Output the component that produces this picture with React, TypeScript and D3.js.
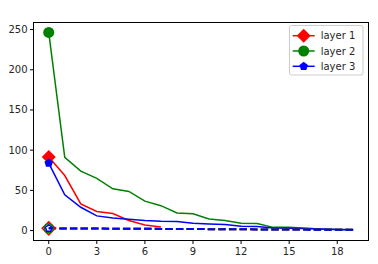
import React from "react";
import * as d3 from "d3";

const xs = d3.range(20);
const layer1 = [91.5, 68.5, 33.3, 23.7, 21.2, 12.5, 7, 4.6];
const layer2 = [246.5, 91, 74, 65, 52, 48.7, 36.6, 31, 22, 20.8, 14.5, 12.5, 9, 8.7, 4, 4, 3, 2, 1.5, 1];
const layer3 = [84, 44.5, 29, 18.3, 15.8, 14, 12.5, 11.5, 11.2, 9, 8.3, 7.5, 5.4, 5, 3.3, 3, 2.5, 2, 1.5, 1];
const baseline = [2.8, 2.7, 2.6, 2.5, 2.4, 2.3, 2.2, 2.1, 2.0, 1.9, 1.8, 1.7, 1.6, 1.5, 1.4, 1.3, 1.2, 1.1, 1.0, 0.9];
const xTicks = [0, 3, 6, 9, 12, 15, 18];
const yTicks = [0, 50, 100, 150, 200, 250];
const legendLabels = ["layer 1", "layer 2", "layer 3"];
const colors = ["red", "green", "blue"];

const L = 33.5, R = 368.5, T = 22.5, B = 240.5;

function diamond(cx: number, cy: number, r: number) {
  return `M${cx},${cy - r}L${cx + r},${cy}L${cx},${cy + r}L${cx - r},${cy}Z`;
}
function pentagon(cx: number, cy: number, r: number) {
  const pts = d3.range(5).map((i) => {
    const a = -Math.PI / 2 + (i * 2 * Math.PI) / 5;
    return [cx + r * Math.cos(a), cy + r * Math.sin(a)];
  });
  return "M" + pts.map((p) => p.join(",")).join("L") + "Z";
}

export default function App() {
  const x = d3.scaleLinear().domain([-0.95, 19.95]).range([L, R]);
  const y = d3.scaleLinear().domain([-12.33, 258.8]).range([B, T]);
  const line = d3
    .line<number>()
    .x((_, i) => x(i))
    .y((d) => y(d));
  const series = [layer1, layer2, layer3];
  const font = "DejaVu Sans, sans-serif";
  const bx = x(0), by = y(baseline[0]);
  return (
    <svg width={378} height={264} style={{ position: "absolute", left: 0, top: 0 }}>
      <rect x={0} y={0} width={378} height={264} fill="white" />
      {series.map((s, i) => (
        <path key={i} d={line(s) || ""} fill="none" stroke={colors[i]} strokeWidth={1.5} />
      ))}
      {colors.map((c, i) => (
        <path key={"b" + i} d={line(baseline) || ""} fill="none" stroke={c} strokeWidth={2} strokeDasharray="7.4,3.2" />
      ))}
      <path d={diamond(bx, by, 6.5)} fill="none" stroke="red" strokeWidth={1.5} />
      <circle cx={bx} cy={by} r={4.5} fill="none" stroke="green" strokeWidth={1.5} />
      <path d={pentagon(bx, by, 3.5)} fill="none" stroke="blue" strokeWidth={1.5} />
      <path d={diamond(x(0), y(layer1[0]), 7)} fill="red" />
      <circle cx={x(0)} cy={y(layer2[0])} r={5.5} fill="green" />
      <path d={pentagon(x(0), y(layer3[0]), 4.5)} fill="blue" />
      <rect x={L} y={T} width={R - L} height={B - T} fill="none" stroke="black" strokeWidth={1} />
      {xTicks.map((t) => (
        <g key={"x" + t}>
          <line x1={x(t)} x2={x(t)} y1={B} y2={B + 3.5} stroke="black" />
          <text x={x(t)} y={B + 14.5} textAnchor="middle" fontFamily={font} fontSize={10} fill="#262626">
            {t}
          </text>
        </g>
      ))}
      {yTicks.map((t) => (
        <g key={"y" + t}>
          <line x1={L - 3.5} x2={L} y1={y(t)} y2={y(t)} stroke="black" />
          <text x={L - 6} y={y(t) + 3.5} textAnchor="end" fontFamily={font} fontSize={10} fill="#262626">
            {t}
          </text>
        </g>
      ))}
      <rect x={289.5} y={25.5} width={73.5} height={49.5} rx={2} fill="white" fillOpacity={0.8} stroke="#cccccc" />
      {legendLabels.map((lab, i) => {
        const ly = 35.7 + i * 15.3;
        return (
          <g key={lab}>
            <line x1={292.7} x2={314.7} y1={ly} y2={ly} stroke={colors[i]} strokeWidth={1.5} />
            {i === 0 && <path d={diamond(303.7, ly, 7)} fill="red" />}
            {i === 1 && <circle cx={303.7} cy={ly} r={5.5} fill="green" />}
            {i === 2 && <path d={pentagon(303.7, ly, 4.5)} fill="blue" />}
            <text x={320.7} y={ly + 3.5} fontFamily={font} fontSize={10} fill="#262626">
              {lab}
            </text>
          </g>
        );
      })}
    </svg>
  );
}
